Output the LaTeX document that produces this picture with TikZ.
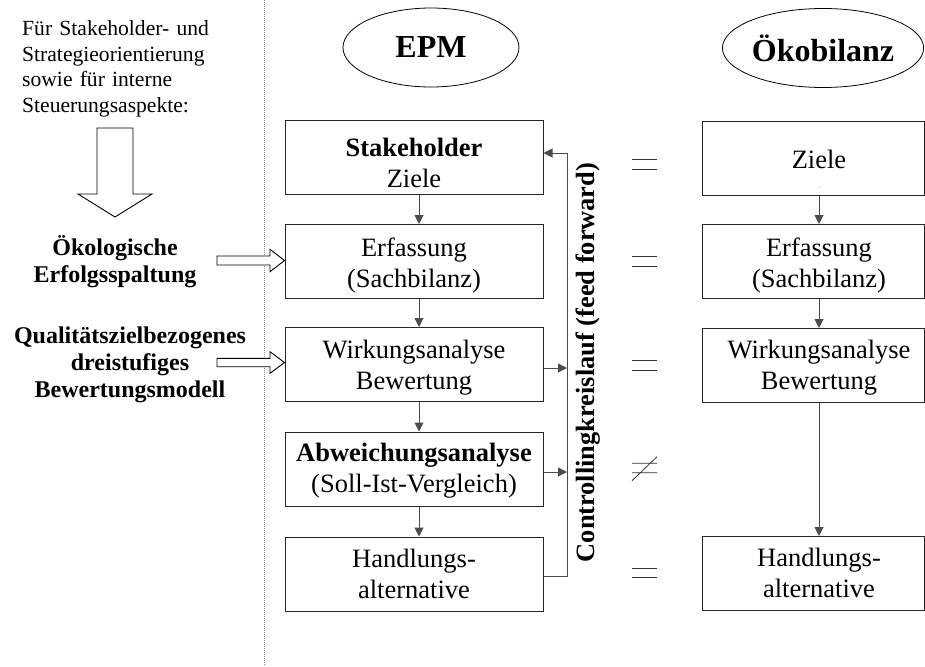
\documentclass[tikz,border=0pt]{standalone}
\usepackage{fontspec}
\setmainfont{Liberation Serif}
\usetikzlibrary{shapes.geometric,arrows.meta}

\newcommand\boxfont{\fontsize{26.5pt}{31pt}\selectfont}
\newcommand\notefont{\fontsize{21.6pt}{25.5pt}\selectfont}
\newcommand\labelfont{\bfseries\fontsize{24pt}{27.3pt}\selectfont}
\newcommand\titlefont{\bfseries\fontsize{32pt}{32pt}\selectfont}

\begin{document}
\begin{tikzpicture}[x=1pt,y=-1pt,
  stage/.style={draw=black!85, line width=1pt, minimum height=74pt, inner sep=0pt},
  epmbox/.style={stage, minimum width=258pt},
  okobox/.style={stage, minimum width=222pt},
  boxtext/.style={anchor=base, text width=250pt, align=center, inner sep=0pt, font=\boxfont},
  title/.style={ellipse, draw=black, line width=0.8pt, inner sep=0pt, minimum height=79pt, font=\titlefont},
  flow/.style={draw=black!70, line width=1pt, -{Triangle[length=9pt,width=9pt]}},
  hollow/.style={draw=black, line width=0.9pt, fill=white},
  eqline/.style={draw=black!80, line width=0.8pt},
  sidelabel/.style={anchor=base, text width=260pt, align=center, inner sep=0pt, font=\labelfont}
]
\useasboundingbox (0,0) rectangle (925,666);

% separator between the notes and the two process chains
\draw[black!45, line width=1pt, dash pattern=on 1pt off 1pt] (264,0) -- (264,666);

% notes on the left
\node[anchor=base west, text width=220pt, align=left, inner sep=0pt, font=\notefont] (note) at (22,36)
  {Für Stakeholder- und\\Strategieorientierung\\sowie für interne\\Steuerungsaspekte:};
\draw[hollow] (97,128) -- (133,128) -- (133,194) -- (152,194) -- (115,217) -- (78,194) -- (97,194) -- cycle;

\node[sidelabel] (erfolg) at (115,255) {Ökologische\\Erfolgsspaltung};
\node[sidelabel] (modell) at (130,343) {Qualitätszielbezogenes\\dreistufiges\\Bewertungsmodell};
\draw[hollow] (217,256) -- (270,256) -- (270,249.3) -- (284.5,260.5) -- (270,271.7) -- (270,265) -- (217,265) -- cycle;
\draw[hollow] (217,358.3) -- (270,358.3) -- (270,351.7) -- (284.5,362.5) -- (270,373.3) -- (270,366.7) -- (217,366.7) -- cycle;

% column headings
\node[title, minimum width=176pt] (epm) at (431,47.5) {EPM};
\node[title, minimum width=178pt] (oeko) at (823,48) {Ökobilanz};

% EPM chain
\node[epmbox] (e1) at (414,157.5) {};
\node[epmbox] (e2) at (414,261.5) {};
\node[epmbox] (e3) at (414,364.5) {};
\node[epmbox] (e4) at (414,469) {};
\node[epmbox] (e5) at (414,574) {};
\node[boxtext] (e1t) at (414,156.5) {\textbf{Stakeholder}\\Ziele};
\node[boxtext] (e2t) at (414,256) {Erfassung\\(Sachbilanz)};
\node[boxtext] (e3t) at (414,358.5) {Wirkungsanalyse\\Bewertung};
\node[boxtext] (e4t) at (414,461.5) {\textbf{Abweichungsanalyse}\\(Soll-Ist-Vergleich)};
\node[boxtext] (e5t) at (414,567) {Handlungs-\\alternative};

\draw[flow] ([xshift=5pt]e1.south) -- ([xshift=5pt]e2.north);
\draw[flow] ([xshift=5pt]e2.south) -- ([xshift=5pt]e3.north);
\draw[flow] ([xshift=5pt]e3.south) -- ([xshift=5pt]e4.north);
\draw[flow] ([xshift=5pt]e4.south) -- ([xshift=5pt]e5.north);

% controlling loop
\coordinate (fb) at (567,153);
\draw[flow] ([yshift=-2pt]e5.east) -| (fb) -- ([yshift=4.5pt]e1.east);
\draw[flow] ([yshift=-3.5pt]e3.east) -- ([yshift=-3.5pt]e3.east -| fb);
\draw[flow] ([yshift=-3pt]e4.east) -- ([yshift=-3pt]e4.east -| fb);
\node[rotate=90, inner sep=0pt, font=\bfseries\fontsize{26.4pt}{30pt}\selectfont] (loop) at (588,362.5)
  {Controllingkreislauf (feed forward)};

% comparison marks
\draw[eqline] (632,159.5) -- (657,159.5) (632,169.5) -- (657,169.5);
\draw[eqline] (632,256.7) -- (657,256.7) (632,266.7) -- (657,266.7);
\draw[eqline] (632,360) -- (657,360) (632,370) -- (657,370);
\draw[eqline] (632,463.3) -- (657,463.3) (632,472.7) -- (657,472.7) (632,480.7) -- (657,456.7);
\draw[eqline] (632,568.3) -- (657,568.3) (632,577.3) -- (657,577.3);

% Oekobilanz chain
\node[okobox] (o1) at (813,158) {};
\node[okobox] (o2) at (813,261.5) {};
\node[okobox] (o3) at (813,365.5) {};
\node[okobox] (o4) at (813,573.5) {};
\node[boxtext] (o1t) at (819,168.3) {Ziele};
\node[anchor=base, inner sep=0pt, font=\fontsize{6pt}{6pt}\selectfont] (o1dot) at (819,188) {.};
\node[boxtext] (o2t) at (819,256) {Erfassung\\(Sachbilanz)};
\node[boxtext] (o3t) at (819,358.3) {Wirkungsanalyse\\Bewertung};
\node[boxtext] (o4t) at (819,566.7) {Handlungs-\\alternative};

\draw[flow] (o1.south -| o1t) -- (o2.north -| o1t);
\draw[flow] (o2.south -| o2t) -- (o3.north -| o2t);
\draw[flow] (o3.south -| o3t) -- (o4.north -| o3t);
\end{tikzpicture}
\end{document}
